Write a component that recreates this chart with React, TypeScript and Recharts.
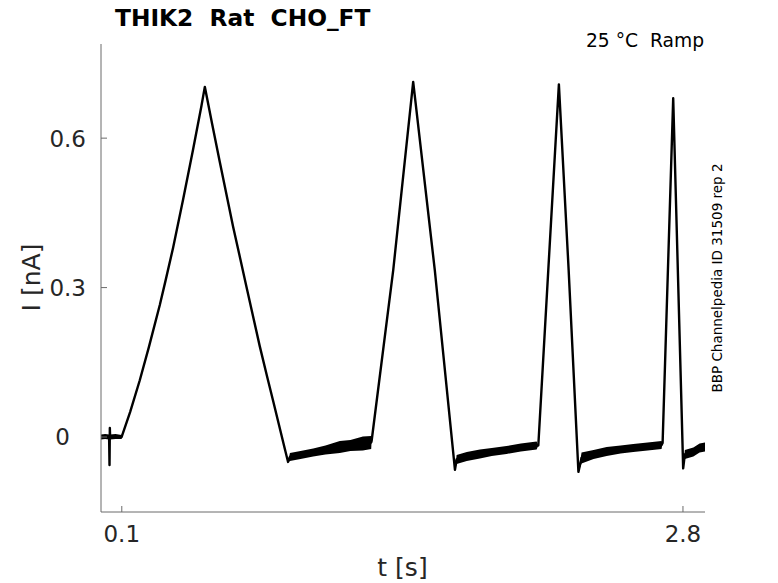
import React from 'react';
import { ComposedChart, Line, Area, XAxis, YAxis } from 'recharts';

// time [s]
const times = [
  0.0, 0.02, 0.039, 0.041, 0.0425, 0.044, 0.07, 0.099,
  0.14, 0.1866, 0.23, 0.2829, 0.31, 0.3469, 0.395, 0.443, 0.4834, 0.4995,
  0.535, 0.5716, 0.6356, 0.67, 0.6998, 0.764, 0.8, 0.828, 0.884, 0.9,
  0.909, 0.96, 1.021, 1.08, 1.149, 1.2, 1.26, 1.3,
  1.302, 1.406, 1.502, 1.606, 1.703,
  1.711, 1.76, 1.823, 1.88, 1.951, 2.02, 2.096,
  2.104, 2.152, 2.203, 2.25, 2.297,
  2.312, 2.37, 2.433, 2.5, 2.561, 2.63, 2.697,
  2.702, 2.753, 2.801,
  2.809, 2.85, 2.88, 2.906,
];
// current [nA]
const current = [
  0.0, 0.001, 0.0, -0.056, 0.018, 0.0, 0.001, 0.0,
  0.05, 0.114, 0.18, 0.265, 0.313, 0.38, 0.477, 0.577, 0.665, 0.703,
  0.628, 0.552, 0.422, 0.358, 0.3016, 0.182, 0.12, 0.073, -0.023, -0.05,
  -0.04, -0.036, -0.031, -0.026, -0.02, -0.017, -0.013, -0.011,
  -0.008, 0.335, 0.713, 0.335, -0.066,
  -0.045, -0.039, -0.034, -0.03, -0.026, -0.021, -0.017,
  -0.017, 0.335, 0.708, 0.335, -0.07,
  -0.042, -0.035, -0.029, -0.025, -0.022, -0.019, -0.016,
  -0.012, 0.68, -0.063,
  -0.035, -0.03, -0.022, -0.02,
];
// half width of the recording noise band [nA]
const noise = [
  0.005, 0.005, 0.005, 0, 0, 0.005, 0.005, 0.004,
  0, 0, 0, 0, 0, 0, 0, 0, 0, 0,
  0, 0, 0, 0, 0, 0, 0, 0, 0, 0,
  0.008, 0.008, 0.008, 0.009, 0.012, 0.011, 0.014, 0.013,
  0, 0, 0, 0, 0,
  0.009, 0.009, 0.009, 0.008, 0.008, 0.008, 0.008,
  0, 0, 0, 0, 0,
  0.011, 0.009, 0.009, 0.008, 0.008, 0.008, 0.008,
  0, 0, 0,
  0.009, 0.009, 0.009, 0.009,
];

const xTicks = [0.1, 2.8];
const yTicks = [0, 0.3, 0.6];
const xDomain = [0, 2.906];
const yDomain = [-0.1505, 0.789];

const titleText = 'THIK2  Rat  CHO_FT';
const conditionText = '25 °C  Ramp';
const sideText = 'BBP Channelpedia ID 31509 rep 2';
const xLabel = 't [s]';
const yLabel = 'I [nA]';

const data = times.map((t, i) => ({
  t,
  v: current[i],
  band: [current[i] - noise[i], current[i] + noise[i]],
}));

const FONT = 'DejaVu Sans, sans-serif';
const AXIS = '#6b6b6b';
const TEXT = '#262626';

const XTick = (props: any) => {
  const { x, y, payload } = props;
  return (
    <g>
      <line x1={x} y1={y} x2={x} y2={y - 6} stroke={AXIS} strokeWidth={1} />
      <text x={x} y={y + 30} textAnchor="middle" fontFamily={FONT} fontSize={23} fill={TEXT}>
        {String(payload.value)}
      </text>
    </g>
  );
};

const YTick = (props: any) => {
  const { x, y, payload } = props;
  const isZero = payload.value === 0;
  return (
    <g>
      <line x1={x} y1={y} x2={x + 6} y2={y} stroke={AXIS} strokeWidth={1} />
      <text
        x={isZero ? x - 31 : x - 15}
        y={y + 8.4}
        textAnchor="end"
        fontFamily={FONT}
        fontSize={23}
        fill={TEXT}
      >
        {String(payload.value)}
      </text>
    </g>
  );
};

export default function App() {
  return (
    <div style={{ position: 'absolute', left: 0, top: 0, width: 778, height: 583, background: '#fff' }}>
      <ComposedChart
        width={778}
        height={583}
        data={data}
        margin={{ top: 44, right: 73, bottom: 0, left: 0 }}
      >
        <XAxis
          type="number"
          dataKey="t"
          domain={xDomain}
          ticks={xTicks}
          interval={0}
          allowDataOverflow
          height={71}
          axisLine={{ stroke: AXIS, strokeWidth: 1 }}
          tickLine={false}
          tickSize={0}
          tickMargin={0}
          tick={<XTick />}
        />
        <YAxis
          type="number"
          domain={yDomain}
          ticks={yTicks}
          interval={0}
          allowDataOverflow
          width={101}
          axisLine={{ stroke: AXIS, strokeWidth: 1 }}
          tickLine={false}
          tickSize={0}
          tickMargin={0}
          tick={<YTick />}
        />
        <Area
          dataKey="band"
          type="linear"
          fill="#000"
          fillOpacity={1}
          stroke="none"
          isAnimationActive={false}
        />
        <Line
          dataKey="v"
          type="linear"
          stroke="#000"
          strokeWidth={2.4}
          strokeLinejoin="round"
          dot={false}
          isAnimationActive={false}
        />
      </ComposedChart>
      <svg
        width={778}
        height={583}
        style={{ position: 'absolute', left: 0, top: 0, pointerEvents: 'none' }}
      >
        <text x={115} y={26} fontFamily={FONT} fontWeight="bold" fontSize={23.3} fill="#000" style={{ whiteSpace: 'pre' }}>
          {titleText}
        </text>
        <text x={704} y={47} textAnchor="end" fontFamily={FONT} fontSize={18.7} fill="#000" style={{ whiteSpace: 'pre' }}>
          {conditionText}
        </text>
        <text
          x={721.5}
          y={278}
          textAnchor="middle"
          fontFamily={FONT}
          fontSize={13.5}
          fill="#000"
          transform="rotate(-90 721.5 278)"
        >
          {sideText}
        </text>
        <text x={402.5} y={575.5} textAnchor="middle" fontFamily={FONT} fontSize={25} fill={TEXT}>
          {xLabel}
        </text>
        <text
          x={39.5}
          y={277.5}
          textAnchor="middle"
          fontFamily={FONT}
          fontSize={25}
          fill={TEXT}
          transform="rotate(-90 39.5 277.5)"
        >
          {yLabel}
        </text>
      </svg>
    </div>
  );
}
